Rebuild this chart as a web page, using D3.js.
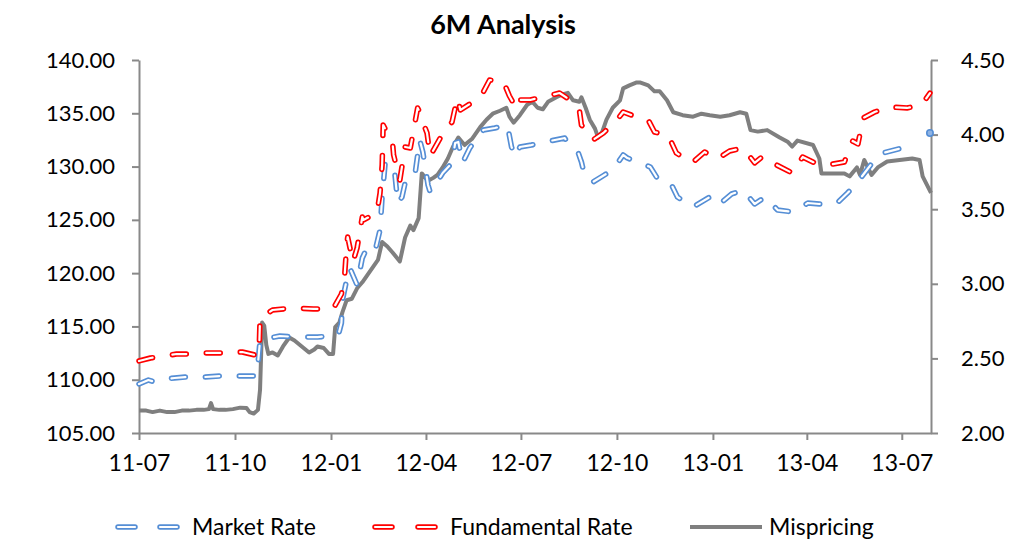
<!DOCTYPE html>
<html><head><meta charset="utf-8">
<script src="https://cdn.jsdelivr.net/npm/d3@7/dist/d3.min.js"></script>
<style>body{margin:0;background:#fff}svg text{font-family:Lato,"Open Sans",sans-serif;fill:#000}</style>
</head><body><svg id="c" width="1018" height="543"></svg>
<script>
const titleText = "6M Analysis";
const leftTicks = [105,110,115,120,125,130,135,140];
const rightTicks = [2.00,2.50,3.00,3.50,4.00,4.50];
const xTickDates = ["2011-07-01","2011-10-01","2012-01-01","2012-04-01","2012-07-01","2012-10-01","2013-01-01","2013-04-01","2013-07-01"];
const xTickLabels = ["11-07","11-10","12-01","12-04","12-07","12-10","13-01","13-04","13-07"];
const xDomain = ["2011-07-01","2013-07-29"];
const seriesNames = ["Market Rate","Fundamental Rate","Mispricing"];

const marketDates = ["2011-07-01","2011-07-10","2011-07-16","2011-07-26","2011-08-04","2011-08-14","2011-08-24","2011-09-02","2011-09-17","2011-10-03","2011-10-22","2011-10-25","2011-11-03","2011-11-13","2011-11-30","2011-12-19","2012-01-08","2012-01-11","2012-01-12","2012-01-16","2012-01-19","2012-01-26","2012-01-31","2012-02-04","2012-02-12","2012-02-17","2012-02-19","2012-02-22","2012-02-28","2012-03-02","2012-03-05","2012-03-09","2012-03-12","2012-03-21","2012-03-26","2012-03-29","2012-04-03","2012-04-05","2012-04-10","2012-04-17","2012-04-26","2012-04-29","2012-05-02","2012-05-06","2012-05-13","2012-05-21","2012-05-26","2012-06-06","2012-06-18","2012-06-22","2012-06-26","2012-06-30","2012-07-11","2012-07-24","2012-08-12","2012-08-17","2012-08-25","2012-08-28","2012-08-31","2012-09-08","2012-09-19","2012-09-27","2012-10-07","2012-10-11","2012-10-21","2012-11-02","2012-11-08","2012-11-21","2012-11-28","2012-12-13","2012-12-29","2013-01-06","2013-01-19","2013-01-30","2013-02-10","2013-02-20","2013-03-04","2013-03-19","2013-04-02","2013-04-13","2013-04-30","2013-05-10","2013-05-19","2013-05-27","2013-06-07","2013-06-13","2013-07-01","2013-07-16","2013-07-28"];
const marketValues = [109.60,109.97,109.79,110.07,110.16,110.25,110.16,110.25,110.35,110.35,110.35,113.73,113.91,114.10,114.00,114.00,114.19,115.32,117.48,119.36,120.48,118.89,121.42,122.27,121.98,124.05,127.14,130.43,130.05,129.49,126.58,127.14,128.46,128.93,132.49,131.37,128.27,127.61,128.27,129.40,130.34,132.21,132.31,130.34,131.74,132.77,133.43,133.62,133.90,131.84,130.90,131.84,132.02,132.31,132.68,131.84,131.27,130.43,129.21,128.55,129.21,129.68,131.09,130.80,130.43,129.96,129.02,128.55,127.14,126.21,127.14,126.39,127.43,127.80,126.49,127.14,125.92,125.74,126.58,126.49,126.58,127.52,128.46,129.49,130.90,131.27,131.74,131.74,133.15];

const fundamentalDates = ["2011-07-01","2011-07-12","2011-07-19","2011-08-06","2011-08-24","2011-09-02","2011-09-21","2011-10-08","2011-10-20","2011-10-24","2011-10-25","2011-11-06","2011-11-25","2011-12-15","2012-01-03","2012-01-11","2012-01-14","2012-01-16","2012-01-17","2012-01-22","2012-01-26","2012-01-31","2012-02-01","2012-02-14","2012-02-17","2012-02-19","2012-02-20","2012-02-25","2012-02-29","2012-03-01","2012-03-05","2012-03-07","2012-03-12","2012-03-17","2012-03-24","2012-03-26","2012-03-29","2012-04-02","2012-04-05","2012-04-19","2012-04-26","2012-05-01","2012-05-04","2012-05-13","2012-05-15","2012-05-26","2012-06-01","2012-06-14","2012-06-20","2012-06-27","2012-06-30","2012-07-10","2012-07-22","2012-08-07","2012-08-20","2012-08-26","2012-08-28","2012-09-08","2012-09-18","2012-10-01","2012-10-07","2012-10-20","2012-10-31","2012-11-06","2012-11-19","2012-11-27","2012-12-12","2012-12-24","2013-01-05","2013-01-17","2013-01-30","2013-02-10","2013-02-18","2013-03-03","2013-03-18","2013-03-28","2013-04-11","2013-04-21","2013-05-07","2013-05-15","2013-05-20","2013-05-25","2013-06-05","2013-06-19","2013-07-06","2013-07-20","2013-07-28"];
const fundamentalValues = [111.76,112.04,112.13,112.41,112.41,112.51,112.51,112.60,112.32,112.32,115.79,116.54,116.73,116.64,116.64,118.04,119.64,122.64,123.39,121.05,122.36,125.27,124.99,125.64,127.52,130.15,133.90,132.96,132.21,131.09,129.49,128.74,131.84,131.74,135.50,135.12,134.18,133.15,130.99,133.43,134.18,136.43,135.31,135.87,136.25,137.00,138.12,138.03,136.62,135.40,136.25,136.25,136.53,136.90,136.06,135.31,133.90,132.49,133.15,134.37,135.12,134.65,134.37,133.24,132.96,131.27,130.34,131.37,130.71,131.46,131.74,130.34,130.99,130.15,129.40,130.90,130.24,130.15,130.43,132.40,132.12,134.56,135.12,135.59,135.50,135.78,136.90];

const mispricingDates = ["2011-07-01","2011-07-08","2011-07-14","2011-07-21","2011-07-28","2011-08-04","2011-08-11","2011-08-18","2011-08-25","2011-09-01","2011-09-06","2011-09-08","2011-09-10","2011-09-16","2011-09-22","2011-09-29","2011-10-06","2011-10-12","2011-10-15","2011-10-19","2011-10-23","2011-10-25","2011-10-27","2011-10-29","2011-10-31","2011-11-02","2011-11-06","2011-11-11","2011-11-16","2011-11-22","2011-11-27","2011-12-04","2011-12-11","2011-12-16","2011-12-19","2011-12-25","2011-12-30","2012-01-03","2012-01-05","2012-01-09","2012-01-12","2012-01-16","2012-01-21","2012-01-26","2012-01-31","2012-02-04","2012-02-10","2012-02-15","2012-02-19","2012-02-24","2012-02-29","2012-03-07","2012-03-12","2012-03-17","2012-03-20","2012-03-25","2012-03-28","2012-04-03","2012-04-08","2012-04-12","2012-04-17","2012-04-22","2012-04-27","2012-05-02","2012-05-08","2012-05-15","2012-05-23","2012-05-29","2012-06-04","2012-06-11","2012-06-17","2012-06-20","2012-06-24","2012-06-30","2012-07-07","2012-07-12","2012-07-17","2012-07-22","2012-07-27","2012-08-04","2012-08-10","2012-08-15","2012-08-20","2012-08-26","2012-08-28","2012-09-01","2012-09-05","2012-09-10","2012-09-13","2012-09-17","2012-09-21","2012-09-27","2012-10-04","2012-10-07","2012-10-13","2012-10-20","2012-10-23","2012-10-31","2012-11-06","2012-11-11","2012-11-18","2012-11-24","2012-12-03","2012-12-13","2012-12-21","2012-12-29","2013-01-08","2013-01-17","2013-01-27","2013-02-02","2013-02-06","2013-02-13","2013-02-22","2013-03-06","2013-03-14","2013-03-18","2013-03-23","2013-04-07","2013-04-13","2013-04-15","2013-04-26","2013-05-07","2013-05-12","2013-05-19","2013-05-22","2013-05-26","2013-06-02","2013-06-08","2013-06-17","2013-06-29","2013-07-11","2013-07-18","2013-07-21","2013-07-29"];
const mispricingValues = [2.15,2.15,2.14,2.15,2.14,2.14,2.15,2.15,2.155,2.155,2.16,2.20,2.16,2.155,2.155,2.16,2.17,2.167,2.14,2.13,2.155,2.29,2.74,2.72,2.59,2.53,2.54,2.52,2.58,2.64,2.62,2.58,2.54,2.56,2.58,2.57,2.53,2.53,2.71,2.74,2.81,2.89,2.90,2.97,3.01,3.05,3.11,3.16,3.28,3.25,3.21,3.15,3.31,3.39,3.36,3.44,3.74,3.69,3.71,3.73,3.78,3.84,3.92,3.98,3.93,3.97,4.05,4.10,4.14,4.16,4.18,4.12,4.08,4.13,4.20,4.22,4.18,4.17,4.22,4.25,4.27,4.28,4.23,4.22,4.25,4.18,4.10,4.04,3.98,4.02,4.10,4.18,4.23,4.31,4.33,4.35,4.35,4.33,4.29,4.29,4.23,4.15,4.13,4.12,4.14,4.13,4.12,4.13,4.15,4.14,4.03,4.02,4.03,3.98,3.95,3.92,3.96,3.93,3.84,3.74,3.74,3.74,3.72,3.78,3.73,3.83,3.73,3.78,3.82,3.83,3.84,3.83,3.72,3.61];

const parse = d3.timeParse("%Y-%m-%d");
const svg = d3.select("#c");
const M = {left:139, right:931, top:60, bottom:433};
const axisColor = "#898989";
const FS = 23, YFS = 22;

const x = d3.scaleTime().domain(xDomain.map(parse)).range([M.left, M.right]);
const yL = d3.scaleLinear().domain([105,140]).range([M.bottom, M.top]);
const yR = d3.scaleLinear().domain([2,4.5]).range([M.bottom, M.top]);

// title
svg.append("text").attr("x",503).attr("y",34).attr("text-anchor","middle")
  .style("font-size","27px").style("font-weight","bold").text(titleText);

function styleAxis(g, fs){
  g.selectAll("path.domain").attr("stroke",axisColor).attr("stroke-width",2);
  g.selectAll(".tick line").attr("stroke",axisColor).attr("stroke-width",2);
  g.selectAll(".tick text").style("font-size",fs+"px").style("font-family","Lato, 'Open Sans', sans-serif").attr("fill","#000");
}

const gx = svg.append("g").attr("transform",`translate(0,${M.bottom})`)
  .call(d3.axisBottom(x).tickValues(xTickDates.map(parse)).tickFormat((d,i)=>xTickLabels[i]).tickSize(7).tickSizeOuter(0).tickPadding(15));
styleAxis(gx, FS);

const gl = svg.append("g").attr("transform",`translate(${M.left},0)`)
  .call(d3.axisLeft(yL).tickValues(leftTicks).tickFormat(d3.format(".2f")).tickSize(7).tickSizeOuter(0).tickPadding(17));
styleAxis(gl, YFS);

const gr = svg.append("g").attr("transform",`translate(${M.right},0)`)
  .call(d3.axisRight(yR).tickValues(rightTicks).tickFormat(d3.format(".2f")).tickSize(7).tickSizeOuter(0).tickPadding(23));
styleAxis(gr, YFS);

const blue = "#558ED5", red = "#FF0000", gray = "#7F7F7F";
const dash = "14,20";

function series(dates, values){ return dates.map((d,i)=>({date:parse(d), v:values[i]})); }
const market = series(marketDates, marketValues);
const fundamental = series(fundamentalDates, fundamentalValues);
const mispricing = series(mispricingDates, mispricingValues);

const lineL = d3.line().x(d=>x(d.date)).y(d=>yL(d.v));
const lineR = d3.line().x(d=>x(d.date)).y(d=>yR(d.v));

function hollow(data, color, gen){
  svg.append("path").datum(data).attr("d",gen).attr("fill","none").attr("stroke",color)
    .attr("stroke-width",5.5).attr("stroke-dasharray",dash).attr("stroke-linecap","round").attr("stroke-linejoin","round");
  svg.append("path").datum(data).attr("d",gen).attr("fill","none").attr("stroke","#fff")
    .attr("stroke-width",2.2).attr("stroke-dasharray",dash).attr("stroke-linecap","round").attr("stroke-linejoin","round");
}

svg.append("path").datum(mispricing).attr("d",lineR).attr("fill","none").attr("stroke",gray)
  .attr("stroke-width",4).attr("stroke-linejoin","round");
hollow(market.slice(0,-1), blue, lineL);
const lastM = market[market.length-1];
svg.append("circle").attr("cx",x(lastM.date)).attr("cy",yL(lastM.v)).attr("r",3.2)
  .attr("fill","#8fb3e3").attr("stroke",blue).attr("stroke-width",1.6);
hollow(fundamental, red, lineL);

// legend
const ly = 527;
const legendItems = [
  {name:seriesNames[0], color:blue, hollow:true, x0:115, x1:180, tx:192},
  {name:seriesNames[1], color:red, hollow:true, x0:372, x1:438, tx:450},
  {name:seriesNames[2], color:gray, hollow:false, x0:690, x1:762, tx:769}
];
legendItems.forEach(it=>{
  if(it.hollow){
    const segs = [[it.x0+3, it.x0+20],[it.x1-20, it.x1-3]];
    segs.forEach(s=>{
      svg.append("line").attr("x1",s[0]).attr("x2",s[1]).attr("y1",ly).attr("y2",ly)
        .attr("stroke",it.color).attr("stroke-width",5.5).attr("stroke-linecap","round");
      svg.append("line").attr("x1",s[0]).attr("x2",s[1]).attr("y1",ly).attr("y2",ly)
        .attr("stroke","#fff").attr("stroke-width",2.2).attr("stroke-linecap","round");
    });
  } else {
    svg.append("line").attr("x1",it.x0).attr("x2",it.x1).attr("y1",ly).attr("y2",ly)
      .attr("stroke",it.color).attr("stroke-width",4);
  }
  svg.append("text").attr("x",it.tx).attr("y",ly).attr("dy","0.35em").style("font-size",FS+"px").text(it.name);
});
</script></body></html>
